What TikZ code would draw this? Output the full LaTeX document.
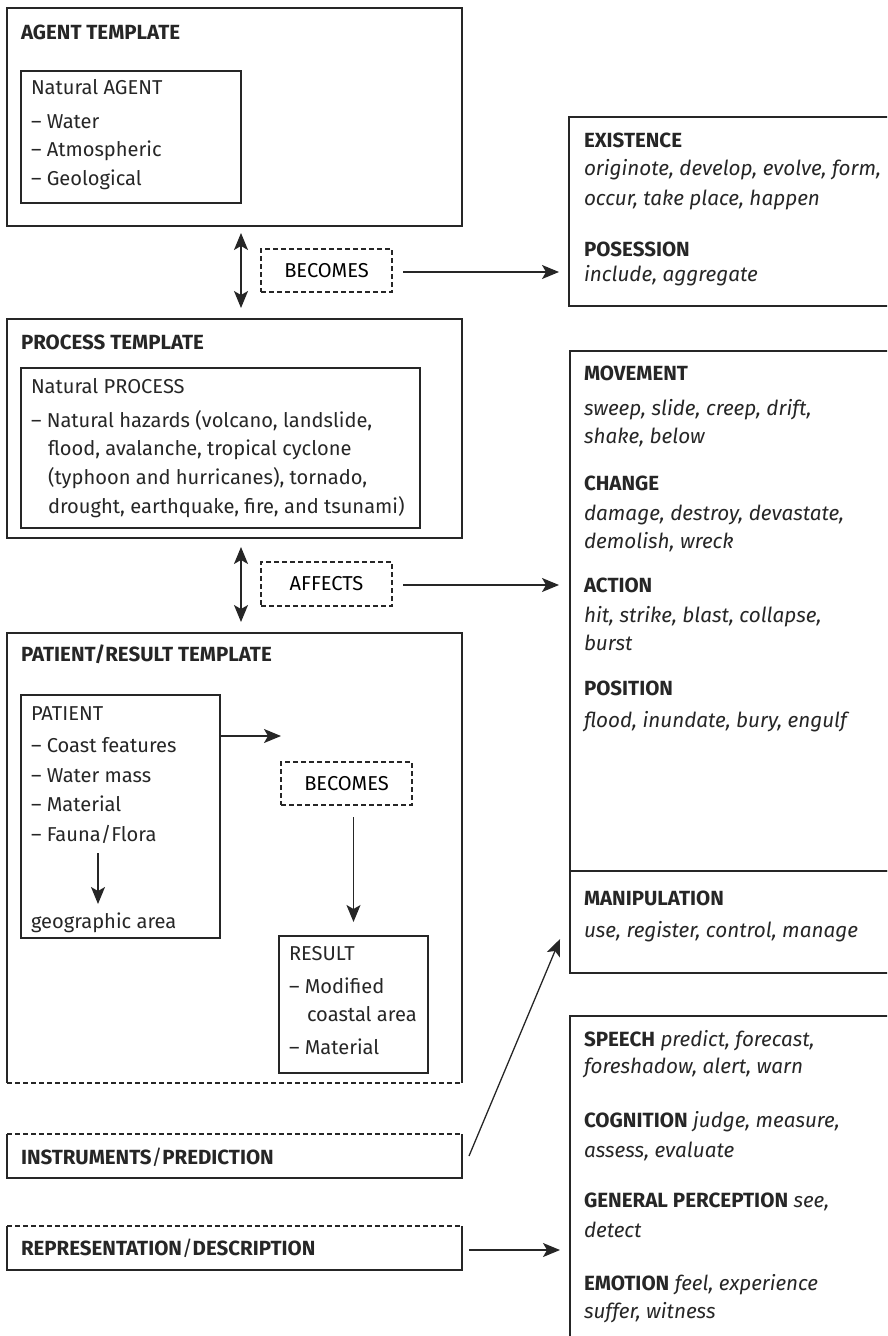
\documentclass[tikz,border=0pt]{standalone}
\usepackage{fontspec}
\setmainfont{Fira Sans}
\usetikzlibrary{arrows.meta}
\begin{document}
\begin{tikzpicture}[x=1pt,y=-1pt,
  box/.style={draw=black!85, line width=1.3pt, inner sep=0pt, outer sep=0pt, font=\fontsize{20.1}{24}\selectfont},
  dbox/.style={box, dash pattern=on 5pt off 3pt},
  frame/.style={inner sep=0pt, outer sep=0pt},
  solidedge/.style={draw=black!85, line width=1.3pt},
  dashedge/.style={draw=black!85, line width=1.3pt, dash pattern=on 5pt off 3pt},
  txt/.style={anchor=base west, inner sep=0pt, outer sep=0pt, text=black!85, font=\fontsize{20.1}{24}\selectfont},
  hd/.style={txt, font=\fontsize{20.5}{24}\selectfont\bfseries},
  it/.style={txt, font=\fontsize{20.7}{24}\selectfont\itshape},
  arr/.style={draw=black!85, line width=1.3pt, -{Stealth[length=17pt,width=14pt,inset=4pt]}},
  darr/.style={draw=black!85, line width=1.3pt, {Stealth[length=17pt,width=14pt,inset=4pt]}-{Stealth[length=17pt,width=14pt,inset=4pt]}},
]
\useasboundingbox (0,0) rectangle (887,1336);
\clip (0,0) rectangle (887,1336);

% ---------- left column boxes ----------
\node[box, minimum width=455pt, minimum height=218pt] (agent) at (234.5,117) {};
\node[box, minimum width=220pt, minimum height=132pt] (agentin) at (131,137) {};
\node[dbox, minimum width=131pt, minimum height=43pt] (becomesA) at (326.5,270.5) {BECOMES};

\node[box, minimum width=455pt, minimum height=219pt] (process) at (234.5,428.5) {};
\node[box, minimum width=399pt, minimum height=160pt] (procin) at (220.5,448) {};
\node[dbox, minimum width=131pt, minimum height=44pt] (affects) at (326.5,584) {AFFECTS};

\node[frame, minimum width=455pt, minimum height=450pt] (patres) at (234.5,858) {};
\draw[solidedge] (patres.south west) -- (patres.north west) -- (patres.north east) -- (patres.south east);
\draw[dashedge] (patres.south west) -- (patres.south east);
\node[box, minimum width=199pt, minimum height=243pt] (patient) at (120.5,816.5) {};
\node[dbox, minimum width=131pt, minimum height=43pt] (becomesB) at (346.5,783.5) {BECOMES};
\node[box, minimum width=149pt, minimum height=137pt] (result) at (353.5,1004.5) {};

\node[frame, minimum width=455pt, minimum height=44pt] (instr) at (234.5,1156) {};
\draw[solidedge] (instr.north west) -- (instr.south west) -- (instr.south east) -- (instr.north east);
\draw[dashedge] (instr.north west) -- (instr.north east);
\node[frame, minimum width=455pt, minimum height=44pt] (repr) at (234.5,1248) {};
\draw[solidedge] (repr.north west) -- (repr.south west) -- (repr.south east) -- (repr.north east);
\draw[dashedge] (repr.north west) -- (repr.north east);

% ---------- right column boxes ----------
\node[box, minimum width=331pt, minimum height=189pt] (exist) at (734.5,211.5) {};
\node[box, minimum width=330pt, minimum height=520pt] (move) at (735,611) {};
\node[box, minimum width=330pt, minimum height=102pt] (manip) at (735,922) {};
\node[box, minimum width=330pt, minimum height=334pt] (speech) at (735,1183) {};

% ---------- texts ----------
\node[hd] (tAgent) at (21,39) {AGENT TEMPLATE};
\node[txt] (tA1) at (31,94) {Natural AGENT};
\node[txt] (tA2) at (31,128) {– Water};
\node[txt] (tA3) at (31,156) {– Atmospheric};
\node[txt] (tA4) at (31,185) {– Geological};

\node[hd] (tEx) at (584,147) {EXISTENCE};
\node[it] (tEx1) at (584,175) {originote, develop, evolve, form,};
\node[it] (tEx2) at (584,205) {occur, take place, happen};
\node[hd] (tPo) at (584,256) {POSESSION};
\node[it] (tPo1) at (584,281) {include, aggregate};

\node[hd] (tProc) at (21,349) {PROCESS TEMPLATE};
\node[txt] (tP1) at (31,393) {Natural PROCESS};
\node[txt] (tP2) at (31,427) {– Natural hazards (volcano, landslide,};
\node[txt] (tP3) at (48,455) {flood, avalanche, tropical cyclone};
\node[txt] (tP4) at (48,484) {(typhoon and hurricanes), tornado,};
\node[txt] (tP5) at (48,513) {drought, earthquake, fire, and tsunami)};

\node[hd] (tMo) at (584,380) {MOVEMENT};
\node[it] (tMo1) at (584,415) {sweep, slide, creep, drift,};
\node[it] (tMo2) at (584,443) {shake, below};
\node[hd] (tCh) at (584,490) {CHANGE};
\node[it] (tCh1) at (584,520) {damage, destroy, devastate,};
\node[it] (tCh2) at (584,548) {demolish, wreck};
\node[hd] (tAc) at (584,592) {ACTION};
\node[it] (tAc1) at (584,622) {hit, strike, blast, collapse,};
\node[it] (tAc2) at (584,650) {burst};
\node[hd] (tPs) at (584,695) {POSITION};
\node[it] (tPs1) at (584,727) {flood, inundate, bury, engulf};
\node[hd] (tMa) at (584,905) {MANIPULATION};
\node[it] (tMa1) at (584,937) {use, register, control, manage};

\node[hd] (tPR) at (21,661) {PATIENT/RESULT TEMPLATE};
\node[txt] (tPa) at (31,720) {PATIENT};
\node[txt] (tPa1) at (31,752) {– Coast features};
\node[txt] (tPa2) at (31,782) {– Water mass};
\node[txt] (tPa3) at (31,811) {– Material};
\node[txt] (tPa4) at (31,841) {– Fauna/Flora};
\node[txt] (tPa5) at (31,928) {geographic area};

\node[txt] (tRe) at (289,960) {RESULT};
\node[txt] (tRe1) at (289,993) {– Modified};
\node[txt] (tRe2) at (307,1021) {coastal area};
\node[txt] (tRe3) at (289,1054) {– Material};

\node[txt, font=\fontsize{20.5}{24}\selectfont] (tIn) at (21,1164) {\textbf{INSTRUMENTS}/\textbf{PREDICTION}};
\node[txt, font=\fontsize{20.5}{24}\selectfont] (tRp) at (21,1255) {\textbf{REPRESENTATION}/\textbf{DESCRIPTION}};

\node[txt, font=\fontsize{20.6}{24}\selectfont] (tSp) at (584,1046) {\textbf{SPEECH} \textit{predict, forecast,}};
\node[it] (tSp1) at (584,1073) {foreshadow, alert, warn};
\node[txt, font=\fontsize{20.6}{24}\selectfont] (tCo) at (584,1127) {\textbf{COGNITION} \textit{judge, measure,}};
\node[it] (tCo1) at (584,1157) {assess, evaluate};
\node[txt, font=\fontsize{20.6}{24}\selectfont] (tGe) at (584,1207) {\textbf{GENERAL PERCEPTION} \textit{see,}};
\node[it] (tGe1) at (584,1237) {detect};
\node[txt, font=\fontsize{20.6}{24}\selectfont] (tEm) at (584,1290) {\textbf{EMOTION} \textit{feel, experience}};
\node[it] (tEm1) at (584,1318) {suffer, witness};

% ---------- connectors ----------
\coordinate (pend) at (281,736);
\coordinate (faunaTop) at (98,853);
\coordinate (faunaBot) at (98,904);
\coordinate (manipIn) at (560,939);
\coordinate (speechIn) at (560,1250);

\draw[darr] ([xshift=6.5pt,yshift=-7pt]agent.south) -- ([xshift=6.5pt,yshift=11pt]process.north);
\draw[arr] ([xshift=11pt,yshift=-1.5pt]becomesA.east) -- ([xshift=-10pt,yshift=-1.5pt]becomesA.east -| exist.west);
\draw[darr] ([xshift=6.5pt,yshift=-9pt]process.south) -- ([xshift=6.5pt,yshift=11pt]patres.north);
\draw[arr] ([xshift=11pt,yshift=-1pt]affects.east) -- ([xshift=-11pt,yshift=-1pt]affects.east -| move.west);
\draw[arr] (patient.east |- pend) -- (pend);
\draw[arr] (faunaTop) -- (faunaBot);
\draw[arr] ([yshift=-12pt]becomesB.south -| result.north) -- ([yshift=14pt]result.north);
\draw[arr] ([xshift=7pt]instr.east) -- (manipIn);
\draw[arr] ([xshift=7pt]repr.east |- speechIn) -- (speechIn);
\end{tikzpicture}
\end{document}
